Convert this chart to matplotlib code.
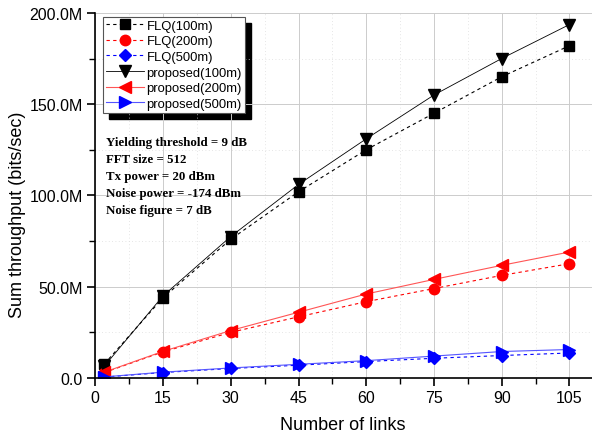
import matplotlib
matplotlib.use("Agg")
import matplotlib.pyplot as plt
from matplotlib.ticker import MultipleLocator, FuncFormatter
from matplotlib.patches import Rectangle

x = [2, 15, 30, 45, 60, 75, 90, 105]
flq_100 = [7.7, 44, 76, 102, 125, 145, 165, 182]
flq_200 = [3, 14.3, 25, 33.5, 41.8, 49, 56.2, 62.6]
flq_500 = [0.5, 3, 5.2, 7, 9, 10.8, 12.3, 13.7]
prop_100 = [6.5, 45, 77.5, 106, 131, 155, 175, 193.6]
prop_200 = [3.2, 14.6, 26, 36, 46, 54, 61.7, 69]
prop_500 = [0.6, 3.2, 5.5, 7.5, 9.5, 12, 14.5, 15.6]

labels = ["FLQ(100m)", "FLQ(200m)", "FLQ(500m)",
          "proposed(100m)", "proposed(200m)", "proposed(500m)"]
annot = ["Yielding threshold = 9 dB", "FFT size = 512", "Tx power = 20 dBm",
         "Noise power = -174 dBm", "Noise figure = 7 dB"]

plt.rcParams['font.family'] = ['Liberation Sans', 'DejaVu Sans']

fig = plt.figure(figsize=(5.92, 4.39), dpi=100)
ax = fig.add_axes([0.161, 0.1367, 0.839, 0.8317])

M = 1e6
ax.plot(x, [v * M for v in flq_100], color='black', ls=(0, (3, 3)), lw=0.8,
        marker='s', ms=6.5, label=labels[0])
ax.plot(x, [v * M for v in flq_200], color='red', ls=(0, (3, 3)), lw=0.8,
        marker='o', ms=7.5, label=labels[1])
ax.plot(x, [v * M for v in flq_500], color='blue', ls=(0, (3, 3)), lw=0.8,
        marker='D', ms=6.5, label=labels[2])
ax.plot(x, [v * M for v in prop_100], color='black', ls='-', lw=0.6,
        marker='v', ms=8.5, label=labels[3])
ax.plot(x, [v * M for v in prop_200], color='#ff5555', ls='-', lw=0.8,
        marker='<', ms=8.5, mfc='red', mec='red', label=labels[4])
ax.plot(x, [v * M for v in prop_500], color='#5555ff', ls='-', lw=0.8,
        marker='>', ms=8.5, mfc='blue', mec='blue', label=labels[5])

ax.set_xlim(0, 110)
ax.set_ylim(0, 200 * M)
ax.xaxis.set_major_locator(MultipleLocator(15))
ax.xaxis.set_minor_locator(MultipleLocator(7.5))
ax.yaxis.set_major_locator(MultipleLocator(50 * M))
ax.yaxis.set_minor_locator(MultipleLocator(25 * M))
ax.yaxis.set_major_formatter(FuncFormatter(
    lambda v, p: "0.0" if v == 0 else f"{v / M:.1f}M"))

ax.grid(which='major', color='#cccccc', lw=0.7, ls='-')
ax.grid(which='minor', color='#dddddd', lw=0.6, ls=(0, (1, 3)))
ax.set_axisbelow(True)

for s in ['top', 'right']:
    ax.spines[s].set_visible(False)
for s in ['left', 'bottom']:
    ax.spines[s].set_linewidth(1.2)

ax.tick_params(which='major', direction='out', length=6, width=1.2,
               labelsize=11.5, pad=3)
ax.tick_params(which='minor', direction='out', length=4, width=1.0)

ax.set_xlabel("Number of links", fontsize=13)
ax.set_ylabel("Sum throughput (bits/sec)", fontsize=13)
ax.xaxis.set_label_coords((343 - 95.5) / (592 - 95.5), -(425 - 379) / 365,
                          transform=ax.transAxes)
ax.yaxis.set_label_coords(-(95.5 - 18) / 496.5, (379 - 215) / 365,
                          transform=ax.transAxes)
ax.xaxis.label.set_va('center')
ax.yaxis.label.set_va('center')

leg = ax.legend(loc='upper left', bbox_to_anchor=(0.016, 0.99),
                fontsize=9.4, frameon=True, fancybox=False, shadow=False,
                handlelength=2.9, handletextpad=0.2, labelspacing=0.27,
                borderpad=0.22, borderaxespad=0)
fr = leg.get_frame()
fr.set_edgecolor('#555555')
fr.set_linewidth(0.8)
fr.set_alpha(1)
leg.set_zorder(5)
fig.canvas.draw()
bb = leg.get_window_extent().transformed(fig.transFigure.inverted())
dx, dy = 6 / 592, -6 / 439
fig.patches.append(Rectangle((bb.x0 + dx, bb.y0 + dy), bb.width, bb.height,
                             transform=fig.transFigure, facecolor='black',
                             edgecolor='black', zorder=0))
ax.set_zorder(1)
ax.patch.set_alpha(0)

for i, t in enumerate(annot):
    ax.text(0.022, (379 - 143 - i * 17) / 365, t, transform=ax.transAxes,
            fontsize=9.3, fontweight='bold',
            family=['Liberation Serif', 'DejaVu Serif'], va='center')

fig.savefig("out.png", dpi=100)
